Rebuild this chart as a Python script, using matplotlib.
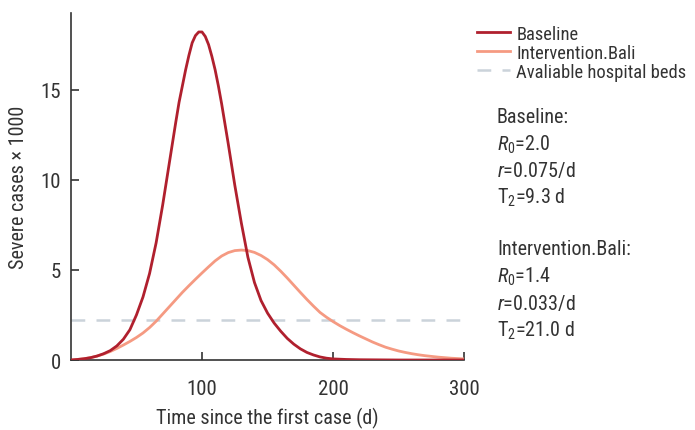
import matplotlib
matplotlib.use("Agg")
import matplotlib.pyplot as plt
from matplotlib import font_manager as fm

names = {f.name for f in fm.fontManager.ttflist}
fam = "DejaVu Sans"
for cand in ["Roboto Condensed", "Liberation Sans Narrow", "Roboto", "Liberation Sans"]:
    if cand in names:
        fam = cand
        break
plt.rcParams['font.family'] = [fam, 'DejaVu Sans']
plt.rcParams['mathtext.fontset'] = 'custom'
plt.rcParams['mathtext.rm'] = fam
plt.rcParams['mathtext.it'] = fam + ':italic'

baseline_days = [0, 5, 10, 15, 20, 25, 30, 35, 40, 45,
                 50, 55, 60, 65, 70, 75, 80, 82.5, 85, 87.5,
                 90, 92.5, 95, 97.5, 100, 102.5, 105, 107.5, 110, 112.5,
                 115, 117.5, 120, 125, 130, 135, 140, 145, 150, 155,
                 160, 165, 170, 175, 180, 185, 190, 195, 200, 210,
                 220, 230, 240, 250, 300]
baseline = [0.0, 0.03, 0.07, 0.13, 0.22, 0.35, 0.52, 0.78, 1.15, 1.68,
            2.5, 3.5, 4.8, 6.5, 8.6, 10.9, 13.2, 14.3, 15.2, 16.1,
            16.9, 17.6, 18.0, 18.2, 18.2, 17.95, 17.5, 16.85, 16.1, 15.2,
            14.2, 13.1, 12.0, 9.7, 7.6, 5.7, 4.3, 3.3, 2.6, 2.05,
            1.6, 1.2, 0.88, 0.62, 0.42, 0.28, 0.17, 0.1, 0.06, 0.03,
            0.015, 0.01, 0.005, 0.0, 0.0]
intervention_days = list(range(0, 301, 5))
intervention = [0.0, 0.03, 0.07, 0.13, 0.22, 0.33, 0.47, 0.64, 0.83, 1.03,
                1.25, 1.5, 1.8, 2.15, 2.55, 2.95, 3.35, 3.75, 4.12, 4.48,
                4.83, 5.17, 5.5, 5.77, 5.96, 6.07, 6.1, 6.07, 5.97, 5.8,
                5.57, 5.28, 4.93, 4.55, 4.15, 3.75, 3.36, 2.99, 2.64, 2.37,
                2.13, 1.91, 1.71, 1.52, 1.34, 1.17, 1.0, 0.85, 0.71, 0.6,
                0.5, 0.42, 0.35, 0.29, 0.24, 0.2, 0.16, 0.13, 0.1, 0.08, 0.06]
hospital_beds = 2.2
series_labels = ["Baseline", "Intervention.Bali", "Avaliable hospital beds"]
x_ticks = [100, 200, 300]
y_ticks = [0, 5, 10, 15]

c_base = "#B0202E"
c_int = "#F59A82"
c_beds = "#CBD3DA"

fig = plt.figure(figsize=(6.95, 4.31), dpi=100)
ax = fig.add_axes([0.102, 0.1624, 0.566, 0.805])

ax.axhline(hospital_beds, color=c_beds, lw=1.8, ls=(0, (5.5, 4.5)), label=series_labels[2], zorder=1)
ax.plot(baseline_days, baseline, color=c_base, lw=2.0, label=series_labels[0], zorder=3,
        solid_joinstyle='round')
ax.plot(intervention_days, intervention, color=c_int, lw=2.0, label=series_labels[1], zorder=2,
        solid_joinstyle='round')

ax.set_xlim(0, 300)
ax.set_ylim(0, 19.25)
ax.set_xticks(x_ticks)
ax.set_yticks(y_ticks)
for s in ["top", "right"]:
    ax.spines[s].set_visible(False)
for s in ["left", "bottom"]:
    ax.spines[s].set_color("#333333")
    ax.spines[s].set_linewidth(1.2)
ax.tick_params(axis='both', direction='in', length=6, width=1.2, color="#333333",
               labelsize=15, labelcolor="#333333")
ax.tick_params(axis='x', pad=14)
ax.tick_params(axis='y', pad=7)
ax.set_xlabel("Time since the first case (d)", fontsize=14.5, color="#333333", labelpad=6)
ax.set_ylabel("Severe cases \u00d7 1000", fontsize=14.5, color="#333333", labelpad=9)

handles, labels = ax.get_legend_handles_labels()
order = [1, 2, 0]
leg = fig.legend([handles[i] for i in order], [labels[i] for i in order],
                 loc='upper left', bbox_to_anchor=(0.686, 0.94), frameon=False,
                 fontsize=13.3, handlelength=1.8, handletextpad=0.35, labelspacing=0.05,
                 borderaxespad=0, borderpad=0)
for t in leg.get_texts():
    t.set_color("#333333")

ann = [
    "Baseline:",
    "$R_0$=2.0",
    "$r$=0.075/d",
    "T$_2$=9.3 d",
    "",
    "Intervention.Bali:",
    "$R_0$=1.4",
    "$r$=0.033/d",
    "T$_2$=21.0 d",
]
for i, s in enumerate(ann):
    if not s:
        continue
    yy = 118 + i * 26.6
    if i >= 5:
        yy = 250 + (i - 5) * 27
    fig.text(497 / 695, 1 - yy / 431, s, fontsize=14.5, color="#333333", va='center', ha='left')

fig.savefig("out.png", dpi=100)
